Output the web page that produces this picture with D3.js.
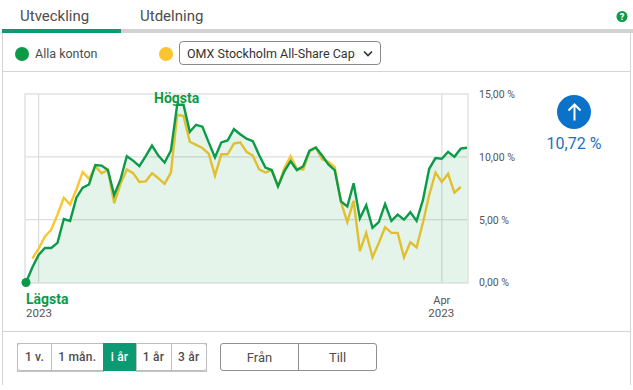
<!DOCTYPE html>
<html>
<head>
<meta charset="utf-8">
<script src="https://cdnjs.cloudflare.com/ajax/libs/d3/7.8.5/d3.min.js"></script>
<style>
  html, body { margin: 0; padding: 0; background: #fff; }
  svg { display: block; }
  text { font-family: Roboto, sans-serif; }
</style>
</head>
<body>
<div id="chart"></div>
<script>
// values, one per period
var kontonValues = [0, 1.2, 2.2, 2.75, 2.75, 3.15, 5.05, 4.9, 6.75, 7.55, 7.8, 9.35, 9.3, 8.95, 6.95, 8.2, 10.05, 9.7, 9.25, 10.05, 10.9, 10.1, 9.55, 10.5, 14.15, 14.15, 12, 12.55, 12.4, 11.15, 9.95, 11.15, 11.3, 12.2, 11.8, 11.45, 11.25, 10.15, 9.15, 8.95, 7.65, 8.85, 9.65, 8.95, 9.25, 10.5, 10.75, 10.1, 9.4, 8.95, 6.45, 6.05, 7.9, 5.1, 6.15, 4.35, 4.8, 6.25, 4.9, 5.4, 5, 5.6, 4.9, 6.55, 9.05, 9.9, 9.85, 10.4, 10, 10.65, 10.72];
var indexValues = [null, 1.9, 2.7, 3.65, 4.2, 5.4, 6.75, 6.2, 7.4, 8.8, 8.25, 9.25, 8.7, 8.95, 6.3, 7.85, 9, 8.7, 8, 8.05, 8.7, 8.3, 7.85, 8.75, 13.35, 13.25, 11.2, 10.95, 10.7, 10.25, 8.5, 10.2, 10.2, 11.05, 11.15, 10.4, 10.1, 9, 8.75, 8.95, 7.65, 9.1, 10.05, 9.05, 9, 10.4, 10.75, 9.8, 9.6, 9.2, 6.4, 4.8, 6.5, 2.5, 3.95, 2, 3.15, 4.4, 3.95, 3.95, 2, 3.2, 2.8, 4.75, 6.95, 8.75, 8, 8.65, 7.15, 7.6, null];
var yTicks = [0, 5, 10, 15];
var xTicks = [2, 66];
var xTickLabels = ["2023", "Apr"];
var rangeButtons = ["1 v.", "1 mån.", "i år", "1 år", "3 år"];
var dateButtons = ["Från", "Till"];

var svgWidth = 633;
var svgHeight = 390;

var green = "#0b9a48";
var teal = "#0a9a74";
var yellow = "#fbc52f";
var textColor = "#4d4d4d";
var borderColor = "#d4d4d4";

var svg = d3.select("#chart").append("svg")
  .attr("width", svgWidth)
  .attr("height", svgHeight);

// panel outline and tabs
svg.append("rect").attr("x", 2).attr("y", 29).attr("width", 631).attr("height", 4).attr("fill", "#d2d2d2");
svg.append("rect").attr("x", 2).attr("y", 29).attr("width", 119).attr("height", 4).attr("fill", teal);
svg.append("rect").attr("x", 2).attr("y", 33).attr("width", 1).attr("height", 352).attr("fill", borderColor);
svg.append("rect").attr("x", 630).attr("y", 33).attr("width", 1).attr("height", 352).attr("fill", borderColor);
svg.append("rect").attr("x", 2).attr("y", 71).attr("width", 629).attr("height", 1).attr("fill", borderColor);
svg.append("rect").attr("x", 2).attr("y", 331).attr("width", 629).attr("height", 1).attr("fill", borderColor);

svg.append("text").attr("x", 20).attr("y", 21).attr("font-size", 15).attr("fill", textColor).text("Utveckling");
svg.append("text").attr("x", 140).attr("y", 21).attr("font-size", 15).attr("fill", textColor).text("Utdelning");

// help icon
svg.append("circle").attr("cx", 622).attr("cy", 16.5).attr("r", 5.5).attr("fill", green);
svg.append("text").attr("x", 622).attr("y", 20).attr("text-anchor", "middle").attr("font-size", 9).attr("font-weight", 900).attr("fill", "#fff").text("?");

// legend
svg.append("circle").attr("cx", 22).attr("cy", 54).attr("r", 7).attr("fill", green);
svg.append("text").attr("x", 35).attr("y", 58).attr("font-size", 12.5).attr("fill", textColor).text("Alla konton");
svg.append("circle").attr("cx", 166).attr("cy", 54).attr("r", 7).attr("fill", yellow);
svg.append("rect").attr("x", 179.5).attr("y", 41.5).attr("width", 201).attr("height", 23).attr("rx", 3.5).attr("fill", "#fff").attr("stroke", "#8a8a8a");
svg.append("text").attr("x", 187).attr("y", 58).attr("font-size", 12.5).attr("fill", "#333").text("OMX Stockholm All-Share Cap");
svg.append("path").attr("d", "M364 51.5l4 4 4-4").attr("fill", "none").attr("stroke", "#333").attr("stroke-width", 1.7);

// chart
var margin = { top: 94, right: 166, bottom: 107.5, left: 26 };
var chartWidth = svgWidth - margin.left - margin.right;
var chartHeight = svgHeight - margin.top - margin.bottom;

var x = d3.scaleLinear().domain([0, kontonValues.length - 1]).range([margin.left, margin.left + chartWidth]);
var y = d3.scaleLinear().domain([0, 15]).range([margin.top + chartHeight, margin.top]);

var chartGroup = svg.append("g");

chartGroup.append("rect")
  .attr("x", margin.left - 1)
  .attr("y", margin.top)
  .attr("width", chartWidth + 2)
  .attr("height", chartHeight + 0.5)
  .attr("fill", "none")
  .attr("stroke", "#e3e3e3")
  .attr("stroke-width", 1.6);

chartGroup.selectAll("line.ygrid")
  .data(yTicks.slice(1, 3))
  .join("line")
  .attr("class", "ygrid")
  .attr("x1", margin.left)
  .attr("x2", margin.left + chartWidth)
  .attr("y1", d => y(d))
  .attr("y2", d => y(d))
  .attr("stroke", "#dedede")
  .attr("stroke-width", 1.2);

chartGroup.selectAll("line.xgrid")
  .data(xTicks)
  .join("line")
  .attr("class", "xgrid")
  .attr("x1", d => x(d))
  .attr("x2", d => x(d))
  .attr("y1", margin.top)
  .attr("y2", margin.top + chartHeight)
  .attr("stroke", "#dcdcdc")
  .attr("stroke-width", 1.2);

var line = d3.line()
  .defined(d => d !== null)
  .x((d, i) => x(i))
  .y(d => y(d));

var area = d3.area()
  .x((d, i) => x(i))
  .y0(y(0))
  .y1(d => y(d));

chartGroup.append("path")
  .attr("d", line(indexValues))
  .attr("fill", "none")
  .attr("stroke", yellow)
  .attr("stroke-width", 2.4);

chartGroup.append("path")
  .attr("d", area(kontonValues))
  .attr("fill", green)
  .attr("fill-opacity", 0.11);

chartGroup.append("path")
  .attr("d", line(kontonValues))
  .attr("fill", "none")
  .attr("stroke", green)
  .attr("stroke-width", 2.4);

chartGroup.append("circle")
  .attr("cx", x(0))
  .attr("cy", y(0))
  .attr("r", 4.5)
  .attr("fill", green);

// y axis
var yAxis = d3.axisRight(y)
  .tickValues(yTicks)
  .tickSize(0)
  .tickPadding(0)
  .tickFormat(d => d3.format(".2f")(d).replace(".", ",") + " %");

var yAxisGroup = svg.append("g")
  .attr("transform", `translate(${margin.left + chartWidth + 12}, 0)`)
  .call(yAxis);
yAxisGroup.select(".domain").remove();
yAxisGroup.selectAll("text")
  .attr("font-family", "Roboto, sans-serif")
  .attr("font-size", 10.5)
  .attr("fill", "#555");

// x axis labels
svg.selectAll("text.xlabel")
  .data(xTicks.slice(1))
  .join("text")
  .attr("class", "xlabel")
  .attr("x", d => x(d))
  .attr("y", 304)
  .attr("text-anchor", "middle")
  .attr("font-size", 11)
  .attr("fill", "#555")
  .text((d, i) => xTickLabels[i + 1]);

svg.append("text").attr("x", x(xTicks[1]) - 0.5).attr("y", 317).attr("text-anchor", "middle").attr("font-size", 11.5).attr("fill", "#555").text("2023");
svg.append("text").attr("x", 26).attr("y", 317).attr("font-size", 11.5).attr("fill", "#555").text(xTickLabels[0]);

svg.append("text").attr("x", 26).attr("y", 304).attr("font-size", 14).attr("font-weight", 700).attr("fill", green).text("Lägsta");
svg.append("text").attr("x", 154).attr("y", 102.5).attr("font-size", 14).attr("font-weight", 700).attr("fill", green).text("Högsta");

// change badge
svg.append("circle").attr("cx", 574).attr("cy", 112).attr("r", 17).attr("fill", "#0a72c9");
svg.append("path").attr("d", "M574.5 120.5v-15.5M568.5 110.5l6-6 6 6").attr("fill", "none").attr("stroke", "#fff").attr("stroke-width", 2);
svg.append("text").attr("x", 574).attr("y", 149).attr("text-anchor", "middle").attr("font-size", 16).attr("fill", "#1f6fbd").text("10,72 %");

// range buttons
var buttonEdges = [17.5, 51.5, 103, 136, 171, 206.5];
var activeButton = 2;

svg.append("rect").attr("x", 17.5).attr("y", 343.5).attr("width", 189).attr("height", 27).attr("rx", 2.5).attr("fill", "#fff").attr("stroke", "#bdbdbd");

svg.selectAll("rect.range")
  .data(rangeButtons)
  .join("rect")
  .attr("class", "range")
  .attr("x", (d, i) => buttonEdges[i])
  .attr("y", 343)
  .attr("width", (d, i) => buttonEdges[i + 1] - buttonEdges[i])
  .attr("height", 28)
  .attr("fill", (d, i) => i === activeButton ? teal : "none")
  .attr("stroke", (d, i) => i === activeButton ? "none" : "#bdbdbd")
  .attr("stroke-opacity", 0.9)
  .attr("shape-rendering", "crispEdges");

svg.selectAll("text.range")
  .data(rangeButtons)
  .join("text")
  .attr("class", "range")
  .attr("x", (d, i) => (buttonEdges[i] + buttonEdges[i + 1]) / 2)
  .attr("y", 361)
  .attr("text-anchor", "middle")
  .attr("font-size", 12)
  .attr("font-weight", 500)
  .attr("fill", (d, i) => i === activeButton ? "#fff" : textColor)
  .attr("letter-spacing", 0.2)
  .text(d => d);

// from / to
var dateEdges = [220.5, 298.5, 376.5];
svg.append("rect").attr("x", 220.5).attr("y", 343.5).attr("width", 156).attr("height", 27).attr("rx", 2.5).attr("fill", "#fff").attr("stroke", "#8f8f8f");
svg.append("line").attr("x1", 298.5).attr("x2", 298.5).attr("y1", 343.5).attr("y2", 370.5).attr("stroke", "#8f8f8f");

svg.selectAll("text.date")
  .data(dateButtons)
  .join("text")
  .attr("class", "date")
  .attr("x", (d, i) => (dateEdges[i] + dateEdges[i + 1]) / 2)
  .attr("y", 362)
  .attr("text-anchor", "middle")
  .attr("font-size", 13)
  .attr("fill", textColor)
  .text(d => d);
</script>
</body>
</html>
